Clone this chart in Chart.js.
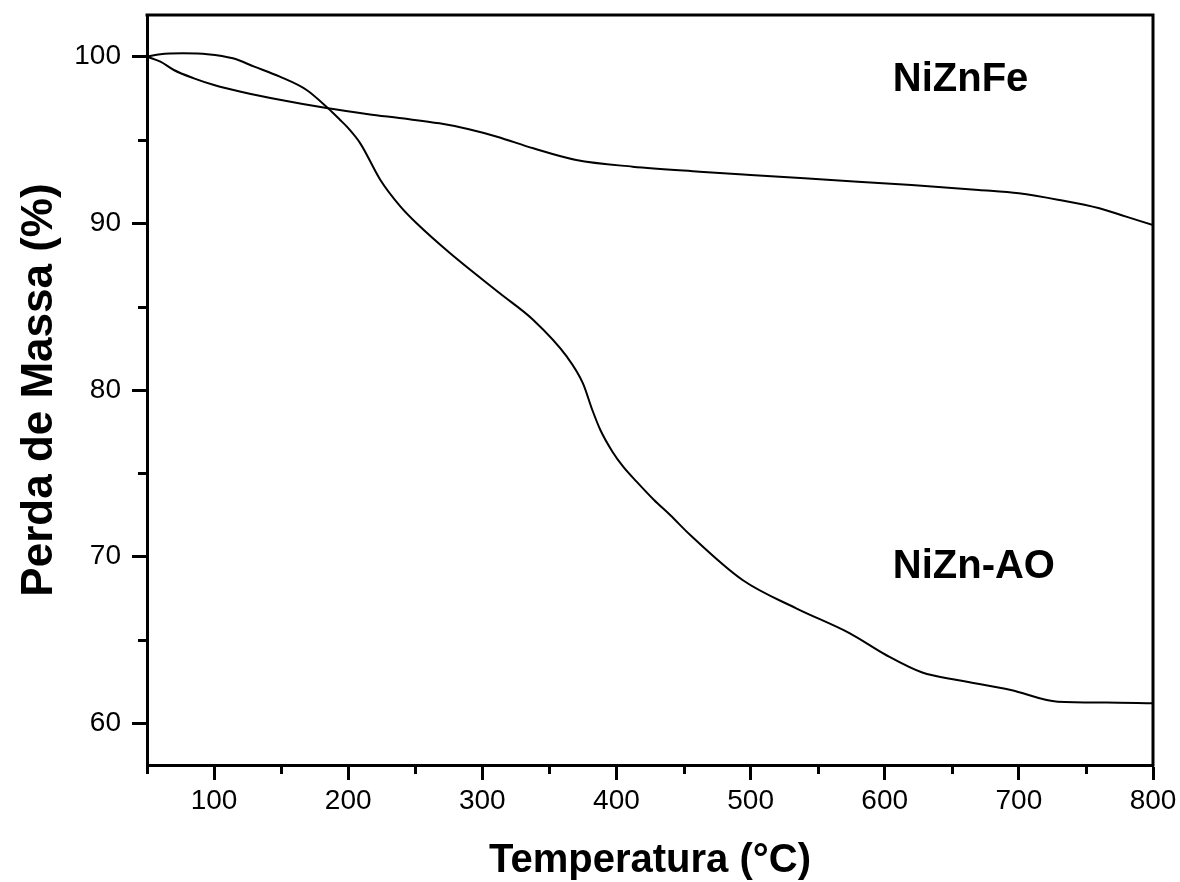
<!DOCTYPE html>
<html>
<head>
<meta charset="utf-8">
<title>TGA NiZn</title>
<script src="https://cdn.jsdelivr.net/npm/chart.js@4.4.1/dist/chart.umd.min.js"></script>
<style>
  html, body { margin: 0; padding: 0; background: #fff; }
  #tga { display: block; }
</style>
</head>
<body>
<canvas id="tga" width="1180" height="882"></canvas>
<script>
// NiZn-AO curve (temperature in °C, mass in %)
const aoTemp = [50, 60, 77, 95, 114, 130, 149, 169, 185, 194, 199, 209, 224, 239, 251, 276, 313, 338, 363, 375, 382, 388, 397, 405, 415, 428, 440, 455, 494, 534, 574, 601, 628, 654, 694, 729, 765, 800];
const aoMass = [100.0, 100.15, 100.2, 100.15, 99.9, 99.4, 98.8, 98.0, 96.9, 96.2, 95.8, 94.8, 92.6, 91.0, 90.0, 88.2, 85.8, 84.2, 82.0, 80.4, 78.8, 77.6, 76.3, 75.4, 74.5, 73.4, 72.5, 71.3, 68.6, 66.9, 65.4, 64.1, 63.05, 62.6, 62.0, 61.3, 61.25, 61.2];

// NiZnFe curve
const feTemp = [50, 60, 70, 85, 100, 120, 150, 185, 215, 240, 268, 290, 311, 338, 370, 412, 462, 500, 560, 620, 670, 700, 730, 760, 780, 800];
const feMass = [100.0, 99.7, 99.2, 98.7, 98.3, 97.9, 97.4, 96.9, 96.55, 96.3, 96.0, 95.65, 95.2, 94.5, 93.8, 93.4, 93.1, 92.9, 92.6, 92.3, 92.0, 91.8, 91.4, 90.9, 90.4, 89.9];

// axis ticks
const xMajor = [100, 200, 300, 400, 500, 600, 700, 800];
const xMinor = [50, 150, 250, 350, 450, 550, 650, 750];
const yMajor = [60, 70, 80, 90, 100];
const yMinor = [65, 75, 85, 95];

// curve labels
const seriesNames = ['NiZn-AO', 'NiZnFe'];
const labelAt = [[606, 69.4], [606, 98.6]];

Chart.defaults.font.family = '"Liberation Sans", Arial, sans-serif';
Chart.defaults.color = '#000';

const toPoints = (xs, ys) => xs.map((x, i) => ({ x: x, y: ys[i] }));

// top/right frame, minor ticks and curve names
const framePlugin = {
  id: 'frame',
  afterDraw(chart) {
    const { ctx, chartArea: a, scales: { x, y } } = chart;
    ctx.save();
    ctx.strokeStyle = '#000';
    ctx.lineWidth = 3;
    ctx.beginPath();
    ctx.moveTo(a.left - 1.5, a.top);
    ctx.lineTo(a.right, a.top);
    ctx.lineTo(a.right, a.bottom + 1.5);
    ctx.stroke();

    ctx.beginPath();
    xMinor.forEach(v => {
      const px = Math.round(x.getPixelForValue(v)) + 0.5;
      ctx.moveTo(px, a.bottom);
      ctx.lineTo(px, a.bottom + 9);
    });
    yMinor.forEach(v => {
      const py = Math.round(y.getPixelForValue(v)) + 0.5;
      ctx.moveTo(a.left, py);
      ctx.lineTo(a.left - 9, py);
    });
    ctx.stroke();

    ctx.fillStyle = '#000';
    ctx.font = 'bold 40px "Liberation Sans", Arial, sans-serif';
    ctx.textAlign = 'left';
    ctx.textBaseline = 'middle';
    seriesNames.forEach((name, i) => {
      ctx.fillText(name, x.getPixelForValue(labelAt[i][0]), y.getPixelForValue(labelAt[i][1]));
    });
    ctx.restore();
  }
};

const axisGrid = {
  display: true,
  drawOnChartArea: false,
  drawTicks: true,
  tickLength: 15,
  tickWidth: 3,
  tickColor: '#000'
};

const axisBorder = { display: true, width: 3, color: '#000' };

new Chart(document.getElementById('tga'), {
  type: 'line',
  data: {
    datasets: [
      {
        label: seriesNames[0],
        data: toPoints(aoTemp, aoMass),
        borderColor: '#000',
        borderWidth: 2,
        pointRadius: 0,
        cubicInterpolationMode: 'monotone',
        fill: false
      },
      {
        label: seriesNames[1],
        data: toPoints(feTemp, feMass),
        borderColor: '#000',
        borderWidth: 2,
        pointRadius: 0,
        cubicInterpolationMode: 'monotone',
        fill: false
      }
    ]
  },
  options: {
    responsive: false,
    animation: false,
    devicePixelRatio: 1,
    layout: { padding: { top: 15, right: 27, left: 0, bottom: 0 } },
    plugins: {
      legend: { display: false },
      tooltip: { enabled: false }
    },
    scales: {
      x: {
        type: 'linear',
        min: 50,
        max: 800,
        afterBuildTicks: s => { s.ticks = xMajor.map(v => ({ value: v })); },
        afterFit: s => { s.height = 117; s.paddingLeft = 0; s.paddingRight = 0; },
        grid: axisGrid,
        border: axisBorder,
        ticks: { font: { size: 28 }, color: '#000', padding: 4, maxRotation: 0, autoSkip: false },
        title: {
          display: true,
          text: 'Temperatura (°C)',
          font: { size: 40, weight: 'bold', lineHeight: 1 },
          color: '#000',
          padding: { top: 0, bottom: 1 }
        }
      },
      y: {
        type: 'linear',
        min: 57.5,
        max: 102.5,
        afterBuildTicks: s => { s.ticks = yMajor.map(v => ({ value: v })); },
        afterFit: s => { s.width = 147; s.paddingTop = 0; s.paddingBottom = 0; },
        grid: axisGrid,
        border: axisBorder,
        ticks: { font: { size: 28 }, color: '#000', padding: 11, autoSkip: false },
        title: {
          display: true,
          text: 'Perda de Massa (%)',
          font: { size: 44, weight: 'bold', lineHeight: 1 },
          color: '#000',
          padding: { top: 18, bottom: 0 }
        }
      }
    }
  },
  plugins: [framePlugin]
});
</script>
</body>
</html>
